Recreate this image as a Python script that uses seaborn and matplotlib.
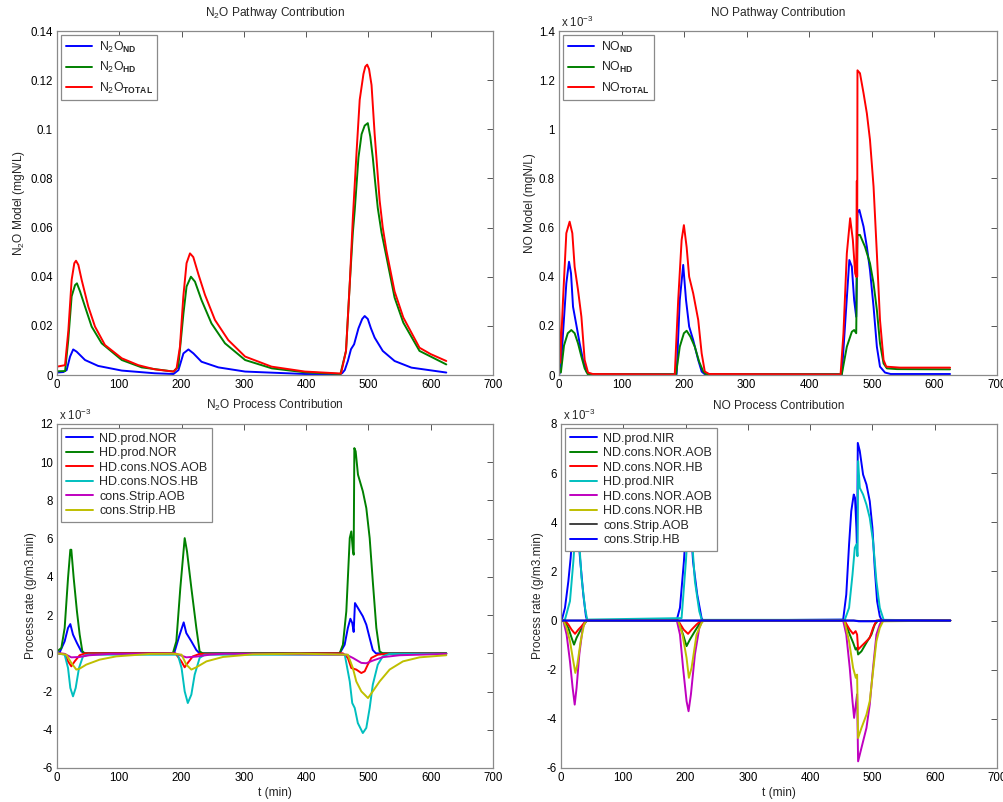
import matplotlib
matplotlib.use("Agg")
import matplotlib.pyplot as plt
from matplotlib.ticker import FuncFormatter, MultipleLocator
import seaborn as sns

# --- N2O pathway contribution (mgN/L) ---
n2o_nd_t = [0, 10, 15.5, 21, 26, 31.5, 45, 66, 104, 157, 187, 195, 203, 211, 219, 232, 259, 302, 398, 454,
            458, 462, 467, 472, 477, 484, 490, 494, 499, 504, 510, 523, 542, 569, 625]
n2o_nd = [0.001, 0.0012, 0.002, 0.0075, 0.0104, 0.0095, 0.0061, 0.0037, 0.0018, 0.0007, 0.0004, 0.002, 0.0088,
          0.0104, 0.0088, 0.0054, 0.0031, 0.0014, 0.0004, 0.0002, 0.0008, 0.002, 0.0057, 0.0105, 0.0125, 0.019,
          0.0228, 0.024, 0.0228, 0.019, 0.0152, 0.0098, 0.0057, 0.003, 0.001]

n2o_hd_t = [0, 13, 18, 23.5, 29, 32, 37, 45, 55.6, 71.7, 104, 136, 187, 194.7, 203, 208, 215, 221.5, 232, 248,
            269.7, 302, 345, 398, 455, 464, 470, 475, 478, 484, 489, 494, 499, 503, 507, 511, 515, 521, 529, 542,
            556, 582, 625]
n2o_hd = [0.0015, 0.0016, 0.014, 0.032, 0.0366, 0.0373, 0.034, 0.0278, 0.0197, 0.0129, 0.0061, 0.0031, 0.0014,
          0.0034, 0.025, 0.036, 0.040, 0.038, 0.0305, 0.021, 0.0129, 0.0061, 0.0027, 0.0011, 0.0004, 0.0098, 0.037,
          0.058, 0.067, 0.0885, 0.098, 0.1015, 0.1025, 0.097, 0.0885, 0.078, 0.068, 0.058, 0.048, 0.0315, 0.0213,
          0.0098, 0.0043]

n2o_total_t = [0, 12.9, 18.2, 23.5, 27.8, 30.5, 34.3, 39.6, 50.3, 61, 77, 104, 130.6, 157, 187, 192, 197.4, 202.8,
               208, 213.5, 218.8, 227, 237.6, 253.6, 275, 302, 344.5, 398, 456, 464, 470, 475, 481, 486, 492, 495,
               498, 501, 505, 510, 518, 523, 529, 542, 556, 582, 600, 625]
n2o_total = [0.0034, 0.004, 0.018, 0.0387, 0.0455, 0.0465, 0.0448, 0.0387, 0.0278, 0.0197, 0.0122, 0.0068, 0.004,
             0.0023, 0.0014, 0.0027, 0.0115, 0.0319, 0.0455, 0.0495, 0.048, 0.041, 0.0326, 0.0224, 0.0142, 0.0075,
             0.0034, 0.0014, 0.0006, 0.0098, 0.037, 0.064, 0.091, 0.112, 0.1225, 0.1255, 0.1263, 0.1245, 0.118,
             0.098, 0.071, 0.06, 0.0505, 0.034, 0.0234, 0.0111, 0.0085, 0.0057]

# --- NO pathway contribution (x 1e-3 mgN/L) ---
no_nd_t = [0, 2.7, 6.4, 11.7, 16, 19.2, 22.4, 27.7, 33, 38.4, 43.8, 49, 188, 193, 198.5, 203, 208, 214.5, 222.5,
           228, 233, 452, 457, 464, 468, 471.7, 475, 477, 480, 486.7, 492, 497, 502.7, 508, 513, 521, 530, 625]
no_nd = [0.0, 0.02, 0.17, 0.373, 0.461, 0.414, 0.278, 0.204, 0.129, 0.061, 0.014, 0.003, 0.003, 0.305, 0.448,
         0.305, 0.197, 0.142, 0.061, 0.014, 0.003, 0.003, 0.197, 0.468, 0.441, 0.305, 0.237, 0.66, 0.672, 0.604,
         0.522, 0.427, 0.278, 0.115, 0.034, 0.01, 0.004, 0.004]

no_hd_t = [0, 3, 8, 14, 19.7, 25, 30.4, 35.8, 41, 46, 187, 193, 199.6, 204, 210, 217, 224, 230.5, 235, 452, 460,
           468, 471.7, 475, 476, 477, 481, 489, 497, 502.7, 508, 513, 518.7, 524, 540, 625]
no_hd = [0.03, 0.01, 0.12, 0.17, 0.183, 0.17, 0.129, 0.075, 0.027, 0.003, 0.003, 0.115, 0.17, 0.18, 0.156, 0.115,
         0.054, 0.014, 0.003, 0.003, 0.115, 0.176, 0.183, 0.17, 0.40, 0.57, 0.57, 0.522, 0.455, 0.373, 0.265,
         0.129, 0.047, 0.027, 0.024, 0.023]

no_total_t = [0, 2, 6.4, 11.7, 17, 21.3, 25, 30.4, 35.8, 41, 46.4, 54, 185, 190.5, 196, 199.6, 204, 208, 214.5,
              222.5, 228, 233, 240, 450, 454.6, 460, 465.3, 469.6, 473.3, 475, 476, 476.5, 477, 481, 486.7, 492,
              497, 502.7, 508, 513, 518.7, 523, 545, 625]
no_total = [0.30, 0.05, 0.305, 0.577, 0.624, 0.577, 0.44, 0.346, 0.237, 0.061, 0.01, 0.004, 0.002, 0.305, 0.55,
            0.61, 0.52, 0.40, 0.332, 0.224, 0.088, 0.014, 0.004, 0.002, 0.17, 0.495, 0.638, 0.55, 0.414, 0.40,
            0.79, 0.40, 1.24, 1.228, 1.147, 1.065, 0.957, 0.767, 0.495, 0.224, 0.061, 0.034, 0.030, 0.030]

# --- N2O process contribution (x 1e-3 g/m3.min) ---
nd_prod_nor_t = [0, 4.3, 12.3, 17.7, 21.4, 25.7, 32, 39, 45, 188, 197, 203.4, 207.6, 215.7, 223.7, 229, 454,
                 461.8, 467, 471, 474, 476.3, 478.4, 483.2, 491, 496.6, 502, 507, 512, 625]
nd_prod_nor = [0.05, 0.05, 0.63, 1.33, 1.53, 0.98, 0.54, 0.1, 0, 0, 0.98, 1.62, 1.06, 0.63, 0.17, 0, 0, 0.45,
               1.33, 1.81, 1.59, 1.12, 2.63, 2.37, 1.94, 1.5, 0.8, 0.17, 0, 0]

hd_prod_nor_t = [0, 7, 12.3, 17.7, 21.4, 23, 26.8, 32, 36.4, 40.7, 44.4, 186, 191.6, 198, 205, 208.7, 215.7,
                 223.7, 229, 234, 453.8, 459, 464.5, 470, 472.5, 475.2, 476.3, 477.4, 479.5, 483.2, 491, 496.6,
                 502, 507, 512.7, 518, 523, 625]
hd_prod_nor = [0.1, 0.28, 1.33, 3.94, 5.42, 5.42, 3.94, 2.2, 0.98, 0.1, 0, 0, 0.63, 3.42, 6.03, 5.34, 3.42, 1.33,
               0.1, 0, 0, 0.45, 2.2, 6.03, 6.38, 5.34, 5.16, 10.74, 10.57, 9.35, 8.48, 7.6, 6.03, 3.77, 1.33, 0.1,
               0, 0]

hd_cons_nos_aob_t = [0, 12.3, 17.7, 23, 28.4, 36.4, 45, 190, 199.6, 205, 210, 218, 229, 459, 467, 472.5, 480.5,
                     488.6, 494, 499, 504.7, 515, 530, 625]
hd_cons_nos_aob = [0, -0.03, -0.42, -0.68, -0.42, -0.1, 0, 0, -0.42, -0.73, -0.5, -0.16, -0.03, 0, -0.24, -0.77,
                   -0.85, -1.03, -0.94, -0.59, -0.24, -0.07, -0.02, -0.02]

hd_cons_nos_hb_t = [0, 12.3, 17.7, 21.4, 25.7, 30, 35.3, 41.7, 50, 194, 200, 205, 210, 215.7, 221, 229, 237,
                    462, 470, 474, 478, 483, 491, 496.6, 502, 507, 515, 523, 534, 625]
hd_cons_nos_hb = [0, -0.07, -0.77, -1.81, -2.25, -1.81, -0.77, -0.16, -0.07, -0.07, -0.77, -1.99, -2.6, -2.16,
                  -1.12, -0.24, -0.07, -0.07, -1.47, -2.6, -2.86, -3.65, -4.17, -3.9, -2.86, -1.64, -0.59, -0.16,
                  -0.03, -0.03]

strip_aob_n2o_t = [0, 12.3, 23, 36.4, 52, 84.6, 190, 207.6, 223.7, 245, 270, 464.5, 475, 488.6, 496.6, 507, 523,
                   550, 625]
strip_aob_n2o = [0, -0.03, -0.21, -0.19, -0.1, -0.03, -0.01, -0.21, -0.17, -0.07, -0.02, -0.07, -0.24, -0.5,
                 -0.52, -0.38, -0.2, -0.1, -0.03]

strip_hb_n2o_t = [0, 15, 23, 31, 36.4, 47, 68.5, 95, 149, 186, 200, 207.6, 215.7, 223.7, 240, 266.5, 314.7, 390,
                  467, 475, 480.5, 488.6, 499.3, 507, 518, 534, 555.5, 582, 625]
strip_hb_n2o = [0, -0.07, -0.5, -0.85, -0.8, -0.59, -0.33, -0.16, -0.03, -0.02, -0.07, -0.59, -0.85, -0.73, -0.42,
                -0.19, -0.05, -0.02, -0.07, -0.77, -1.47, -1.99, -2.34, -1.99, -1.47, -0.85, -0.42, -0.21, -0.1]

# --- NO process contribution (x 1e-3 g/m3.min) ---
nd_prod_nir_t = [0, 1, 6.4, 11.8, 15.5, 19, 22, 26, 30.5, 35.8, 40, 42, 185.6, 191, 197.3, 201, 204, 208, 212,
                 218.7, 225.7, 228, 453, 458, 462.5, 466, 470, 472, 474.3, 475.4, 476.5, 479.7, 485, 490.4, 495.7,
                 500, 503.7, 507.5, 511.8, 515, 625]
nd_prod_nir = [0, 0, 0.52, 1.6, 2.55, 3.8, 4.6, 4.0, 2.55, 1.06, 0.18, 0, 0, 0.52, 2.4, 3.9, 4.6, 4.0, 2.4, 1.06,
               0.1, 0, 0.04, 1.06, 3.1, 4.45, 5.13, 5.0, 3.77, 2.7, 7.23, 6.9, 5.94, 5.54, 4.86, 3.77, 2.14, 0.79,
               0.18, 0, 0]

nd_cons_nor_aob_t = [0, 5, 11.8, 17, 20.9, 25, 30.5, 38.5, 42, 188, 196, 201.6, 207, 215, 223, 226, 455, 463.6,
                     469, 473, 475.4, 477, 482.4, 490.4, 498.4, 503.7, 509, 625]
nd_cons_nor_aob = [0, 0, -0.3, -0.7, -0.98, -0.7, -0.43, -0.1, 0, 0, -0.57, -1.04, -0.77, -0.43, -0.1, 0, 0,
                   -0.57, -0.9, -1.18, -1.11, -1.38, -1.25, -0.9, -0.57, -0.16, 0, 0]

nd_cons_nor_hb_t = [0, 6.4, 11.8, 17, 22.5, 27.8, 33, 40, 188, 197, 204, 209.6, 217.6, 225, 455, 463.6, 469, 473,
                    475.4, 477, 482.4, 490.4, 495.7, 501, 506.4, 625]
nd_cons_nor_hb = [0, 0, -0.16, -0.37, -0.54, -0.37, -0.23, 0, 0, -0.37, -0.54, -0.37, -0.16, 0, 0, -0.37, -0.54,
                  -0.43, -0.57, -1.18, -1.04, -0.84, -0.7, -0.3, 0, 0]

hd_prod_nir_t = [0, 6.4, 14.4, 19.8, 23, 26, 29, 33, 38.5, 42, 193.6, 200.5, 204, 207, 210, 215, 222, 226, 455.6,
                 462.5, 468, 471.7, 474.3, 476, 477, 479.7, 485, 490.4, 495.7, 501, 506.4, 511.8, 518, 625]
hd_prod_nir = [0, 0.04, 0.79, 2.4, 3.6, 4.0, 3.3, 1.74, 0.52, 0.04, 0.1, 2.4, 3.8, 4.2, 3.4, 1.6, 0.38, 0.03,
               0.03, 0.52, 1.87, 2.96, 3.1, 2.62, 6.49, 5.4, 5.13, 4.72, 4.18, 3.23, 1.6, 0.52, 0.03, 0]

hd_cons_nor_aob_t = [0, 3.7, 9, 14.4, 18.7, 22, 25, 29.4, 34.8, 40, 186, 191, 196, 201.6, 204.8, 208.6, 215, 222,
                     227, 453, 458, 463.6, 468, 470.6, 473.3, 475.4, 477, 482.4, 490.4, 495.7, 501, 506.4, 511.8,
                     515, 625]
hd_cons_nor_aob = [0, 0, -0.57, -1.66, -2.74, -3.42, -2.74, -1.38, -0.3, 0, 0, -0.57, -1.93, -3.28, -3.69, -3.0,
                   -1.38, -0.3, 0, 0, -0.57, -1.93, -3.28, -3.96, -3.42, -3.0, -5.73, -5.18, -4.37, -3.42, -1.93,
                   -0.57, -0.16, 0, 0]

hd_cons_nor_hb_t = [0, 4, 9, 14.4, 19.8, 23, 26.2, 31.6, 37, 41, 188, 195, 201.6, 205.3, 209.6, 217.6, 225.7,
                    229, 455, 462.5, 469, 473.3, 475.4, 477, 482.4, 490.4, 495.7, 501, 506.4, 511.8, 517, 625]
hd_cons_nor_hb = [0, 0, -0.3, -0.84, -1.66, -2.13, -1.79, -0.84, -0.16, 0, 0, -0.57, -1.52, -2.33, -1.93, -0.57,
                  -0.1, 0, 0, -0.84, -1.93, -2.33, -2.2, -4.78, -4.37, -3.83, -3.28, -2.06, -0.84, -0.3, -0.03, 0]

strip_aob_no_t = [0, 470, 480, 500, 520, 625]
strip_aob_no = [0, 0, -0.02, -0.02, 0, 0]

strip_hb_no_t = [0, 470, 478, 500, 515, 625]
strip_hb_no = [0, 0, -0.03, -0.03, 0, 0]

# MATLAB default line colours
C_B, C_G, C_R = (0, 0, 1), (0, 0.5, 0), (1, 0, 0)
C_C, C_M, C_Y, C_K = (0, 0.75, 0.75), (0.75, 0, 0.75), (0.75, 0.75, 0), (0.25, 0.25, 0.25)

sns.set_theme(style="white")
plt.rcParams['font.family'] = ['Liberation Sans', 'DejaVu Sans']
plt.rcParams['mathtext.fontset'] = 'custom'
plt.rcParams['mathtext.rm'] = 'Liberation Sans'
plt.rcParams['mathtext.it'] = 'Liberation Sans:italic'
plt.rcParams['mathtext.bf'] = 'Liberation Sans:bold'

W, H = 1004, 802
fig = plt.figure(figsize=(W / 100, H / 100), dpi=100)


def make_ax(x0, y0, x1, y1):
    return fig.add_axes([x0 / W, 1 - y1 / H, (x1 - x0) / W, (y1 - y0) / H])


def style_ax(ax, ylim, ystep, title, ylabel, xlabel=None, exp=False):
    ax.set_xlim(0, 700)
    ax.set_ylim(*ylim)
    ax.xaxis.set_major_locator(MultipleLocator(100))
    ax.yaxis.set_major_locator(MultipleLocator(ystep))
    fmt = FuncFormatter(lambda v, p: f'{round(v, 6):g}')
    ax.xaxis.set_major_formatter(fmt)
    ax.yaxis.set_major_formatter(fmt)
    ax.tick_params(direction='in', top=True, right=True, length=4, width=0.7,
                   color='#555555', labelsize=8.3, pad=3, labelcolor='black')
    for s in ax.spines.values():
        s.set_color('#8a8a8a')
        s.set_linewidth(0.9)
    ax.set_title(title, fontsize=8.6, pad=11)
    ax.set_ylabel(ylabel, fontsize=8.6, labelpad=2)
    if xlabel:
        ax.set_xlabel(xlabel, fontsize=8.6, labelpad=2)
    else:
        ax.set_xlabel('')
    if exp:
        ax.text(0.005, 1.004, r'x 10$^{-3}$', transform=ax.transAxes, ha='left', va='bottom', fontsize=8.3)


def draw(ax, series, fontsize, spacing):
    for t, v, c, lab in series:
        sns.lineplot(x=t, y=v, ax=ax, color=c, lw=1.4, label=lab, sort=False, estimator=None)
    leg = ax.legend(loc='upper left', fontsize=fontsize, frameon=True, fancybox=False,
                    handlelength=2.2, handletextpad=0.5, labelspacing=spacing,
                    borderpad=0.35, borderaxespad=0.35, framealpha=1)
    leg.get_frame().set_edgecolor('#8a8a8a')
    leg.get_frame().set_linewidth(0.9)
    for line in leg.get_lines():
        line.set_linewidth(1.4)


# N2O pathway
ax1 = make_ax(57, 31, 493, 375)
draw(ax1, [
    (n2o_nd_t, n2o_nd, C_B, r'N$_2$O$_{\mathbf{ND}}$'),
    (n2o_hd_t, n2o_hd, C_G, r'N$_2$O$_{\mathbf{HD}}$'),
    (n2o_total_t, n2o_total, C_R, r'N$_2$O$_{\mathbf{TOTAL}}$'),
], 8.8, 0.45)
style_ax(ax1, (0, 0.14), 0.02, r'N$_2$O Pathway Contribution', r'N$_2$O Model (mgN/L)')

# NO pathway
ax2 = make_ax(559, 31, 997, 375)
draw(ax2, [
    (no_nd_t, no_nd, C_B, r'NO$_{\mathbf{ND}}$'),
    (no_hd_t, no_hd, C_G, r'NO$_{\mathbf{HD}}$'),
    (no_total_t, no_total, C_R, r'NO$_{\mathbf{TOTAL}}$'),
], 8.8, 0.45)
style_ax(ax2, (0, 1.4), 0.2, 'NO Pathway Contribution', 'NO Model (mgN/L)', exp=True)

# N2O process
ax3 = make_ax(57, 424, 493, 768)
draw(ax3, [
    (nd_prod_nor_t, nd_prod_nor, C_B, 'ND.prod.NOR'),
    (hd_prod_nor_t, hd_prod_nor, C_G, 'HD.prod.NOR'),
    (hd_cons_nos_aob_t, hd_cons_nos_aob, C_R, 'HD.cons.NOS.AOB'),
    (hd_cons_nos_hb_t, hd_cons_nos_hb, C_C, 'HD.cons.NOS.HB'),
    (strip_aob_n2o_t, strip_aob_n2o, C_M, 'cons.Strip.AOB'),
    (strip_hb_n2o_t, strip_hb_n2o, C_Y, 'cons.Strip.HB'),
], 9.0, 0.2)
style_ax(ax3, (-6, 12), 2, r'N$_2$O Process Contribution', 'Process rate (g/m3.min)', 't (min)', exp=True)

# NO process
ax4 = make_ax(561, 424, 997, 768)
draw(ax4, [
    (nd_prod_nir_t, nd_prod_nir, C_B, 'ND.prod.NIR'),
    (nd_cons_nor_aob_t, nd_cons_nor_aob, C_G, 'ND.cons.NOR.AOB'),
    (nd_cons_nor_hb_t, nd_cons_nor_hb, C_R, 'ND.cons.NOR.HB'),
    (hd_prod_nir_t, hd_prod_nir, C_C, 'HD.prod.NIR'),
    (hd_cons_nor_aob_t, hd_cons_nor_aob, C_M, 'HD.cons.NOR.AOB'),
    (hd_cons_nor_hb_t, hd_cons_nor_hb, C_Y, 'HD.cons.NOR.HB'),
    (strip_aob_no_t, strip_aob_no, C_K, 'cons.Strip.AOB'),
    (strip_hb_no_t, strip_hb_no, C_B, 'cons.Strip.HB'),
], 9.0, 0.2)
style_ax(ax4, (-6, 8), 2, 'NO Process Contribution', 'Process rate (g/m3.min)', 't (min)', exp=True)

fig.savefig('out.png', dpi=100, facecolor='white')
